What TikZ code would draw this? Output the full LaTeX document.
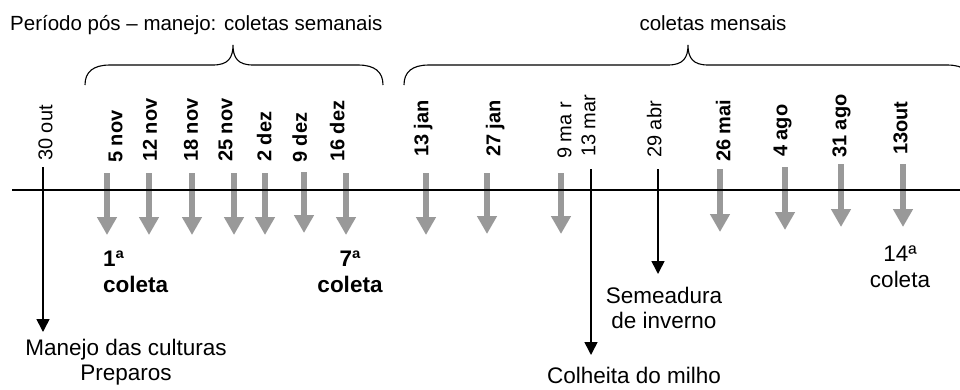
\documentclass[tikz,border=0pt]{standalone}
\usepackage{fontspec}
\setmainfont{Liberation Sans}
\usetikzlibrary{arrows.meta}
\definecolor{coletagray}{RGB}{153,153,153}

\begin{document}
\begin{tikzpicture}[x=1pt, y=-1pt,
  coleta/.style={coletagray, line width=6.5pt, -{Triangle[width=19pt,length=18pt]}},
  evento/.style={black, line width=1.6pt, -{Triangle[width=13pt,length=13pt]}},
  chave/.style={line width=1.1pt},
  titulo/.style={inner sep=0pt, font=\fontsize{20.5}{24}\selectfont},
  datalbl/.style={rotate=90, anchor=west, inner sep=0pt, text height=14.5pt, text depth=0pt, font=\fontsize{20}{24}\selectfont},
  datab/.style={datalbl, font=\fontsize{20}{24}\selectfont\bfseries},
  rotulo/.style={inner sep=0pt, anchor=north, align=center, font=\fontsize{22.5}{25.5}\selectfont}]
  \path[use as bounding box, clip] (0,0) rectangle (960,389);

  \node[titulo, anchor=base west] (semanais) at (10,30) {Período pós – manejo: coletas semanais};
  \node[titulo, anchor=base] (mensais) at (713,30) {coletas mensais};

  \draw[chave] (85,85) .. controls (85,72) and (93,65) .. (110,65) -- (213,65) .. controls (228,65) and (233,58) .. (233,45) .. controls (233,58) and (238,65) .. (253,65) -- (358,65) .. controls (375,65) and (383,72) .. (383,85);
  \draw[chave] (404,85) .. controls (404,72) and (412,65) .. (429,65) -- (668,65) .. controls (683,65) and (688,58) .. (688,45) .. controls (688,58) and (693,65) .. (708,65) -- (947,65) .. controls (964,65) and (972,72) .. (972,85);

  \node[datalbl] (d30out) at (45,161) {30 out};
  \node[datab] (d5nov) at (115,163) {5 nov};
  \node[datab] (d12nov) at (149.5,162) {12 nov};
  \node[datab] (d18nov) at (190.5,162) {18 nov};
  \node[datab] (d25nov) at (225,162) {25 nov};
  \node[datab] (d2dez) at (264,162) {2 dez};
  \node[datab] (d9dez) at (299.5,163) {9 dez};
  \node[datab] (d16dez) at (337,162) {16 dez};
  \node[datab] (d13jan) at (421,157) {13 jan};
  \node[datab] (d27jan) at (493,157) {27 jan};
  \node[datalbl] (d9mar) at (564,159) {9 ma r};
  \node[datalbl] (d13mar) at (588,157) {13 mar};
  \node[datalbl] (d29abr) at (654,158) {29 abr};
  \node[datab] (d26mai) at (723,162) {26 mai};
  \node[datab] (d4ago) at (780,157) {4 ago};
  \node[datab] (d31ago) at (839,158) {31 ago};
  \node[datab] (d13out) at (900,155) {13out};

  \coordinate (c5nov) at (107,173);   \coordinate (f5nov) at (107,235);
  \coordinate (c12nov) at (149,173);  \coordinate (f12nov) at (149,235);
  \coordinate (c18nov) at (192,173);  \coordinate (f18nov) at (192,235);
  \coordinate (c25nov) at (234,173);  \coordinate (f25nov) at (234,235);
  \coordinate (c2dez) at (265,173);   \coordinate (f2dez) at (265,235);
  \coordinate (c9dez) at (304,172);   \coordinate (f9dez) at (304,233);
  \coordinate (c16dez) at (346,173);  \coordinate (f16dez) at (346,235);
  \coordinate (c13jan) at (426,173);  \coordinate (f13jan) at (426,235);
  \coordinate (c27jan) at (487,173);  \coordinate (f27jan) at (487,234);
  \coordinate (c9mar) at (561,173);   \coordinate (f9mar) at (561,234);
  \coordinate (c26mai) at (720,169);  \coordinate (f26mai) at (720,232);
  \coordinate (c4ago) at (785,167);   \coordinate (f4ago) at (785,230);
  \coordinate (c31ago) at (841,164);  \coordinate (f31ago) at (841,227);
  \coordinate (c13out) at (903,164);  \coordinate (f13out) at (903,227);

  \draw[coleta] (c5nov) -- (f5nov);
  \draw[coleta] (c12nov) -- (f12nov);
  \draw[coleta] (c18nov) -- (f18nov);
  \draw[coleta] (c25nov) -- (f25nov);
  \draw[coleta] (c2dez) -- (f2dez);
  \draw[coleta] (c9dez) -- (f9dez);
  \draw[coleta] (c16dez) -- (f16dez);
  \draw[coleta] (c13jan) -- (f13jan);
  \draw[coleta] (c27jan) -- (f27jan);
  \draw[coleta] (c9mar) -- (f9mar);
  \draw[coleta] (c26mai) -- (f26mai);
  \draw[coleta] (c4ago) -- (f4ago);
  \draw[coleta] (c31ago) -- (f31ago);
  \draw[coleta] (c13out) -- (f13out);

  \coordinate (eixo0) at (12,190);
  \coordinate (eixo1) at (960,190);
  \draw[line width=1.6pt] (eixo0) -- (eixo1);

  \coordinate (c30out) at (43,167);  \coordinate (f30out) at (43,332);
  \coordinate (c13mar) at (591,169); \coordinate (f13mar) at (591,355);
  \coordinate (c29abr) at (658,169); \coordinate (f29abr) at (658,274);
  \draw[evento] (c30out) -- (f30out);
  \draw[evento] (c13mar) -- (f13mar);
  \draw[evento] (c29abr) -- (f29abr);

  \node[rotulo, anchor=north west, align=left, font=\fontsize{22.5}{25.5}\selectfont\bfseries] (col1) at (103,251) {1ª\\coleta};
  \node[rotulo, font=\fontsize{22.5}{25.5}\selectfont\bfseries] (col7) at (350,251) {7ª\\coleta};
  \node[rotulo] (col14) at (900,246) {14ª\\coleta};
  \node[rotulo] (manejo) at (126,338.5) {Manejo das culturas\\Preparos};
  \node[rotulo] (semeadura) at (664,286.5) {Semeadura\\de inverno};
  \node[rotulo] (colheita) at (634,366.5) {Colheita do milho};
\end{tikzpicture}
\end{document}
